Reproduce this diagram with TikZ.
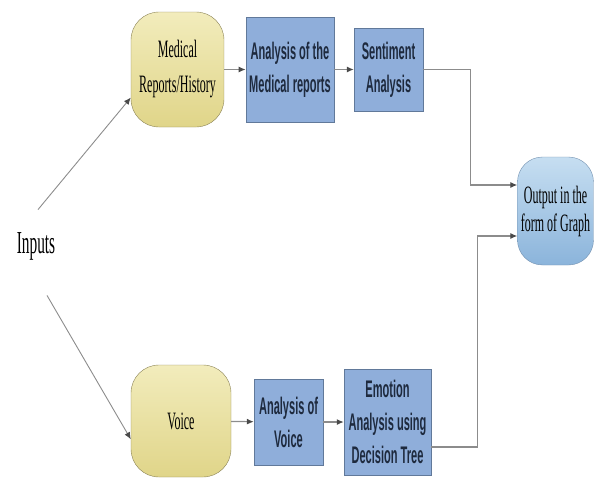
\documentclass[tikz,border=0pt]{standalone}
\usepackage{fontspec}
\usepackage{tikz}
\usetikzlibrary{arrows.meta}
\newfontfamily\narrowserif[FakeStretch=0.48]{Liberation Serif}
\newfontfamily\narrowsans[FakeStretch=0.46]{Liberation Sans}
\definecolor{srctop}{HTML}{F2ECBC}
\definecolor{srcbot}{HTML}{E0D589}
\definecolor{srcline}{HTML}{8C8458}
\definecolor{stepfill}{HTML}{8FAEDA}
\definecolor{stepline}{HTML}{61799A}
\definecolor{steptext}{HTML}{1E2A3E}
\definecolor{outtop}{HTML}{C6DEF1}
\definecolor{outbot}{HTML}{8BB4DB}
\definecolor{outline}{HTML}{7391B0}
\definecolor{linkgray}{HTML}{8C8C8C}
\definecolor{tipgray}{HTML}{4A4A4A}

\begin{document}
\begin{tikzpicture}[>={Latex[length=7pt,width=6pt,color=tipgray]}, x=1pt, y=-1pt,
  inbox/.style={draw=srcline, top color=srctop, bottom color=srcbot, rounded corners=28pt,
    align=center, text=black, font=\narrowserif\fontsize{25}{35}\selectfont},
  procbox/.style={draw=stepline, fill=stepfill, align=center, text=steptext,
    font=\narrowsans\bfseries\fontsize{24}{33}\selectfont},
  outbox/.style={draw=outline, top color=outtop, bottom color=outbot, rounded corners=25pt,
    align=center, text=black, font=\narrowserif\fontsize{25}{28}\selectfont},
  link/.style={->, draw=linkgray, line width=1.2pt}]
\useasboundingbox (0,0) rectangle (603,479);
\node (inputs) at (36,246) {\narrowserif\fontsize{32}{36}\selectfont Inputs};
\node[inbox, minimum width=93pt, minimum height=115pt] (med) at (177.5,69.5) {Medical\\Reports/History};
\node[procbox, minimum width=86pt, minimum height=105pt] (anmed) at (290,69.5) {Analysis of the\\Medical reports};
\node[procbox, minimum width=69pt, minimum height=83pt] (senti) at (388.5,69.5) {Sentiment\\Analysis};
\node[outbox, minimum width=75pt, minimum height=108pt] (outp) at (555.5,211) {Output in the\\form of Graph};
\node[inbox, minimum width=100pt, minimum height=112pt] (voice) at (181,421) {Voice};
\node[procbox, minimum width=69pt, minimum height=86pt] (anvoice) at (288.5,422) {Analysis of\\Voice};
\node[procbox, minimum width=87pt, minimum height=106pt] (emo) at (387.5,422) {Emotion\\Analysis using\\Decision Tree};
\draw[->, draw=linkgray, line width=0.9pt] ([xshift=2pt, yshift=19pt]inputs.north) -- (med.211);
\draw[->, draw=linkgray, line width=0.9pt] ([xshift=11pt, yshift=-32pt]inputs.south) -- (voice.200);
\draw[link] (med) -- (anmed);
\draw[link] (anmed) -- (senti);
\draw[link] (voice) -- (anvoice);
\draw[link] (anvoice) -- (emo);
\draw[link] (senti.east) -- ++(47,0) |- ([yshift=26pt]outp.west);
\draw[link] ([yshift=-25pt]emo.east) -- ++(46,0) |- ([yshift=-25pt]outp.west);
\end{tikzpicture}
\end{document}
